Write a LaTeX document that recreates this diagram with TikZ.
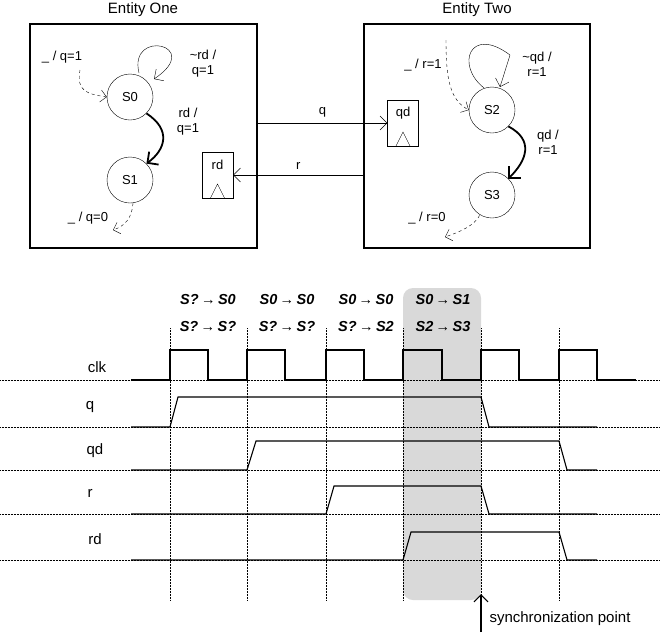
\documentclass[tikz,border=0pt]{standalone}
\usepackage{fontspec}
\setmainfont{Liberation Sans}
\usetikzlibrary{arrows.meta}
\begin{document}
\begin{tikzpicture}[x=1pt,y=-1pt,
  st/.style={circle,draw,minimum size=46pt,inner sep=0pt,font=\fontsize{13}{14}\selectfont},
  ent/.style={draw,line width=1.6pt},
  lbl/.style={font=\fontsize{13}{15}\selectfont,align=center},
  big/.style={font=\fontsize{15}{17}\selectfont},
  tr/.style={font=\bfseries\itshape\fontsize{14.5}{16}\selectfont},
  ff/.style={draw,minimum width=31pt,minimum height=46pt,inner sep=0pt},
  da/.style={dashed,-{Straight Barb[length=6pt]}},
  ar/.style={-{Straight Barb[length=7pt]}},
  th/.style={line width=1.8pt,-{Straight Barb[length=8pt]}},
  wv/.style={line width=1.1pt},
  gd/.style={densely dotted,line width=0.5pt}]
\useasboundingbox (0,0) rectangle (660,635);
% entities
\node[ent,minimum width=227pt,minimum height=224pt,inner sep=0pt] (e1) at (143.5,136) {};
\node[ent,minimum width=226pt,minimum height=224pt,inner sep=0pt] (e2) at (477,136) {};
\node[big] (t1) at (143,10) {Entity One};
\node[big] (t2) at (477,10) {Entity Two};
\node[st] (s0) at (130,97) {S0};
\node[st] (s1) at (130,180) {S1};
\node[st] (s2) at (492,110) {S2};
\node[st] (s3) at (492,195) {S3};
\node[ff] (rd) at (217.5,175) {};
\node[lbl] at (217.5,165) {rd};
\draw (210.5,198) -- (217.5,184) -- (224.5,198);
\node[ff] (qd) at (403,123) {};
\node[lbl] at (403,113) {qd};
\draw (396,146) -- (403,132) -- (410,146);
% entity 1
\node[lbl] (l1) at (62,57) {\_ / q=1};
\coordinate (c1) at (80,70);
\draw[da] (c1) .. controls (76,92) and (88,94) .. (s0.west);
\coordinate (a1) at (139,73);
\coordinate (a1e) at (154,79);
\draw[ar] (a1) .. controls (128,28) and (205,45) .. (a1e);
\node[lbl] at (203,64) {\textasciitilde rd /\\ q=1};
\node[lbl] at (188,122) {rd /\\ q=1};
\draw[th] (s0.south east) .. controls (172,130) and (165,150) .. (s1.north east);
\node[lbl] at (88,218) {\_ / q=0};
\coordinate (c2) at (113,230);
\draw[da] (s1.south)++(3,0) .. controls (132,218) and (125,226) .. (c2);
% entity 2
\node[lbl] at (423,65) {\_ / r=1};
\coordinate (c3) at (446,40);
\draw[da] (c3) .. controls (446,80) and (450,100) .. (s2.west);
\coordinate (a2) at (484,88);
\coordinate (a3) at (500,87);
\draw[ar] (a2) .. controls (455,65) and (470,25) .. (510,55) -- (a3);
\node[lbl] at (537,64) {\textasciitilde qd /\\ r=1};
\node[lbl] at (548,142) {qd /\\ r=1};
\draw[th] (s2.south east) .. controls (534,140) and (527,160) .. (s3.north east);
\node[lbl] at (427,218) {\_ / r=0};
\coordinate (c4) at (445,237);
\draw[da] (s3.south west)++(4,4) .. controls (475,225) and (460,232) .. (c4);
% links
\coordinate (qo) at (e1.east |- qd);
\draw[ar] (qo) -- (qd.west) node[lbl,midway,above=2pt] {q};
\coordinate (ri) at (e2.west |- rd);
\draw[ar] (ri) -- (rd.east) node[lbl,midway,above=2pt] {r};
% timing
\fill[gray!30,rounded corners=10pt] (403,288) rectangle (481,600);
\node[tr] at (208,300) {S?\,→\,S0};
\node[tr] at (287,300) {S0\,→\,S0};
\node[tr] at (366,300) {S0\,→\,S0};
\node[tr] at (443,300) {S0\,→\,S1};
\node[tr] at (208,327) {S?\,→\,S?};
\node[tr] at (287,327) {S?\,→\,S?};
\node[tr] at (366,327) {S?\,→\,S2};
\node[tr] at (443,327) {S2\,→\,S3};
\foreach \x in {170,247,326,403,481,559} \draw[gd] (\x,328) -- (\x,600);
\foreach \y in {380,427,470,514,560} \draw[gd] (0,\y) -- (660,\y);
\node[big] at (97,367) {clk};
\node[big] at (90,407) {q};
\node[big] at (95,451) {qd};
\node[big] at (90,493) {r};
\node[big] at (95,539) {rd};
\draw[wv] (131,380) -- (170,380) -- (170,350) -- (208,350) -- (208,380) -- (247,380) -- (247,350) -- (285,350) -- (285,380) -- (326,380) -- (326,350) -- (364,350) -- (364,380) -- (403,380) -- (403,350) -- (442,350) -- (442,380) -- (481,380) -- (481,350) -- (519,350) -- (519,380) -- (559,380) -- (559,350) -- (597,350) -- (597,380) -- (636,380);
\draw[wv] (131,427) -- (170,427) -- (178,397) -- (481,397) -- (489,427) -- (597,427);
\draw[wv] (131,470) -- (247,470) -- (256,441) -- (559,441) -- (567,470) -- (597,470);
\draw[wv] (131,514) -- (326,514) -- (334,486) -- (481,486) -- (489,514) -- (597,514);
\draw[wv] (131,560) -- (403,560) -- (411,532) -- (559,532) -- (567,560) -- (597,560);
\coordinate (sb) at (481,632);
\coordinate (st) at (481,594);
\draw[line width=1.2pt,-{Straight Barb[length=7pt]}] (sb) -- (st);
\node[big,anchor=west] at (486,619) {synchronization point};
\end{tikzpicture}
\end{document}
